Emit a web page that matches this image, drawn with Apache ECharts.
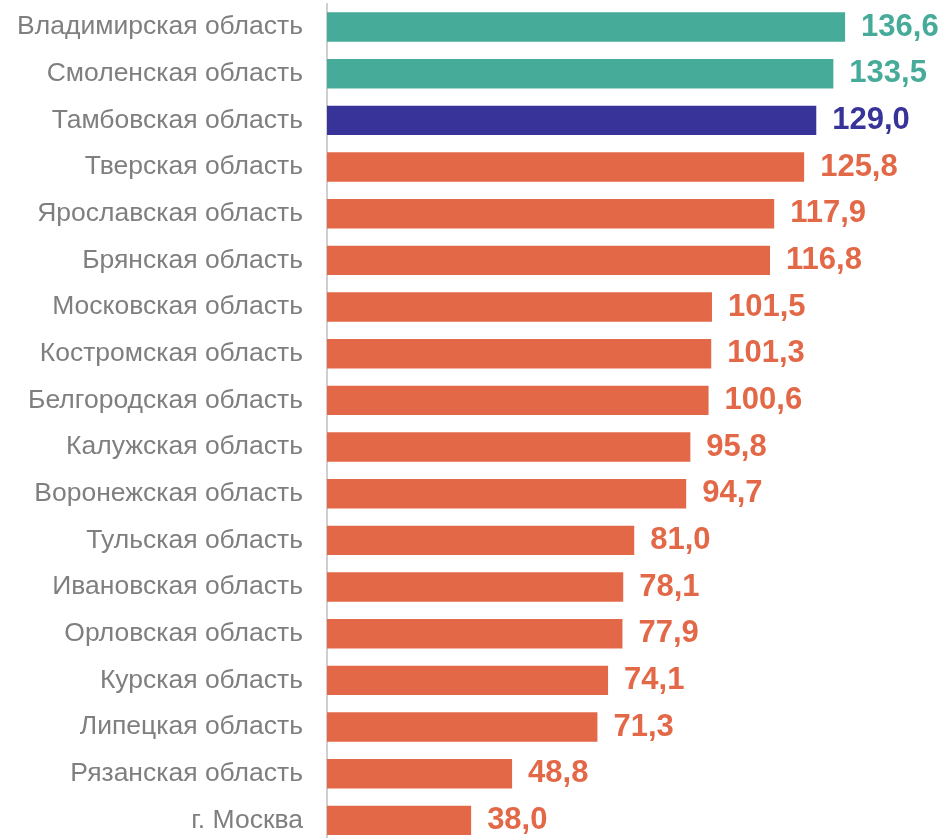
<!DOCTYPE html>
<html><head><meta charset="utf-8">
<script src="https://cdn.jsdelivr.net/npm/echarts@6/dist/echarts.min.js"></script>
<style>html,body{margin:0;padding:0;background:#fff;overflow:hidden}#c{width:946px;height:850px}</style>
</head><body><div id="c"></div>
<script>
const categories = ["Владимирская область","Смоленская область","Тамбовская область","Тверская область","Ярославская область","Брянская область","Московская область","Костромская область","Белгородская область","Калужская область","Воронежская область","Тульская область","Ивановская область","Орловская область","Курская область","Липецкая область","Рязанская область","г. Москва"];
const values = [136.6,133.5,129.0,125.8,117.9,116.8,101.5,101.3,100.6,95.8,94.7,81.0,78.1,77.9,74.1,71.3,48.8,38.0];
const groups = ["top","top","self","other","other","other","other","other","other","other","other","other","other","other","other","other","other","other"];
const palette = {top:"#46AB98", self:"#383399", other:"#E36847"};
const FONT = '"Liberation Sans", Arial, sans-serif';

const chart = echarts.init(document.getElementById('c'), null, {renderer:'canvas'});
chart.setOption({
  animation:false,
  grid:{left:327, top:3.7, width:619, height:840, containLabel:false},
  xAxis:{type:'value', min:0, max:163.2, show:false},
  yAxis:{type:'category', inverse:true, data:categories,
    axisLine:{show:true, lineStyle:{color:'#BFBFBF', width:1.5}},
    axisTick:{show:false},
    axisLabel:{color:'#7F7F7F', fontSize:26.5, fontFamily:FONT, margin:24}
  },
  series:[{
    type:'bar', barCategoryGap:'37%',
    data: values.map((v,i)=>({value:v, itemStyle:{color:palette[groups[i]]},
      label:{color:palette[groups[i]]}})),
    label:{show:true, position:'right', distance:16, fontSize:31, fontWeight:'bold',
      fontFamily:FONT,
      formatter:p=>p.value.toFixed(1).replace('.',',')}
  }]
});
</script></body></html>
